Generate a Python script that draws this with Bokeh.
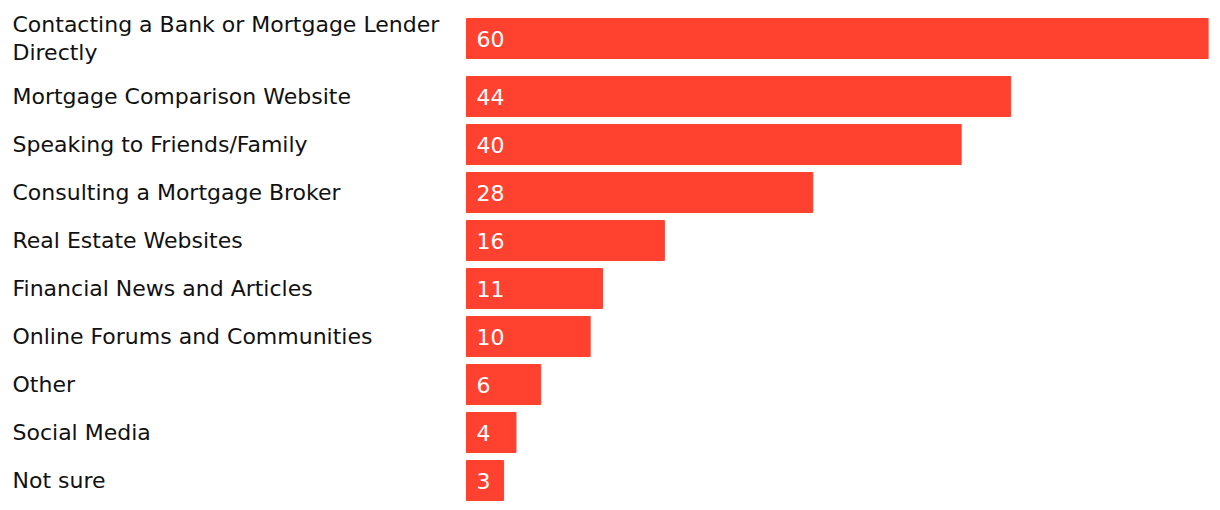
from bokeh.plotting import figure
from bokeh.models import Range1d, ColumnDataSource
from bokeh.core.properties import value
from bokeh.embed import file_html
from bokeh.resources import INLINE

categories = [
    "Contacting a Bank or Mortgage Lender\nDirectly",
    "Mortgage Comparison Website",
    "Speaking to Friends/Family",
    "Consulting a Mortgage Broker",
    "Real Estate Websites",
    "Financial News and Articles",
    "Online Forums and Communities",
    "Other",
    "Social Media",
    "Not sure",
]
values = [60, 44, 40, 28, 16, 11, 10, 6, 4, 3]

BAR_COLOR = "#ff4130"
FONT = "DejaVu Sans"
W, H = 1212, 502
RIGHT_PAD = 4
BAR_LEFT_PX = 466      # pixel where bars start
LABEL_LEFT_PX = 12     # pixel where labels start
BAR_H = 40
ROW = 48
EXTRA_LINE = 10
TOP = 18

xmax = max(values)
frame_w = W - RIGHT_PAD
units_per_px = xmax / (frame_w - BAR_LEFT_PX)
xstart = -BAR_LEFT_PX * units_per_px

centers = []
top = TOP
for lbl in categories:
    n = lbl.count("\n") + 1
    centers.append(top + BAR_H / 2)
    top += ROW + EXTRA_LINE * (n - 1)

src = ColumnDataSource(dict(
    y=centers, v=values, cat=categories, txt=[str(v) for v in values]
))

p = figure(width=W, height=H, output_backend="svg", toolbar_location=None,
           x_range=Range1d(xstart, xmax), y_range=Range1d(H, 0),
           min_border_left=0, min_border_right=RIGHT_PAD, min_border_top=0,
           min_border_bottom=0)
p.xaxis.visible = False
p.yaxis.visible = False
p.xgrid.visible = False
p.ygrid.visible = False
p.outline_line_color = None
p.background_fill_color = "white"
p.border_fill_color = "white"

p.hbar(y="y", left=0, right="v", height=BAR_H, color=BAR_COLOR, source=src)
p.text(x=0, y="y", text="txt", source=src, x_offset=10,
       text_color="white", text_font=value(FONT), text_font_size="22px",
       text_baseline="middle", text_align="left")
p.text(x=xstart, y="y", text="cat", source=src, x_offset=LABEL_LEFT_PX,
       text_color="#111111", text_font=value(FONT), text_font_size="22px",
       text_baseline="middle", text_align="left", text_line_height=1.1)

open("out.html", "w").write(file_html(p, INLINE))
